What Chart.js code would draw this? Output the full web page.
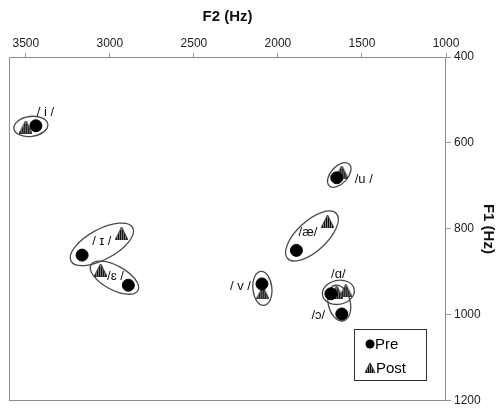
<!DOCTYPE html>
<html>
<head>
<meta charset="utf-8">
<script src="https://cdn.jsdelivr.net/npm/chart.js@4.4.1/dist/chart.umd.min.js"></script>
<style>
  html, body { margin: 0; padding: 0; background: #fff; }
</style>
</head>
<body>
<canvas id="vowelChart" width="504" height="411"></canvas>
<script>
// vowel formant data (Hz)
const vowels = ['i', 'ɪ', 'ɛ', 'u', 'æ', 'ʌ', 'ɑ', 'ɔ'];
const vowelLabels = ['/ i /', '/ ɪ /', '/ɛ /', '/u /', '/æ/', '/ v /', '/ɑ/', '/ɔ/'];
const preF2 = [3440, 3165, 2890, 1650, 1890, 2095, 1685, 1620];
const preF1 = [560, 861, 931, 681, 850, 928, 951, 998];
const postF2 = [3500, 2930, 3055, 1620, 1705, 2090, 1596, 1650];
const postF1 = [563, 811, 896, 668, 783, 949, 944, 947];
const xTicks = [3500, 3000, 2500, 2000, 1500, 1000];
const yTicks = [400, 600, 800, 1000, 1200];

// ellipse look per vowel: [extra length along the pair, minor radius] in px
const ellipseSize = [[12, 10], [12.6, 15], [11, 12], [11, 8.5], [12, 15], [12.5, 9.5], [8.5, 12], [7, 11]];
// label offset from the pair midpoint, px
const labelOffset = [[14.5, -13.5], [0, -3], [1, -1], [24.5, 4], [-4, -4], [-22, -2], [0, -18], [-21, 12]];

const FONT = '"Liberation Sans", Arial, sans-serif';

// striped triangle marker for "Post"
function makeTriangle(w, h) {
  const c = document.createElement('canvas');
  c.width = w;
  c.height = h;
  const g = c.getContext('2d');
  const tri = () => {
    g.beginPath();
    g.moveTo(w / 2, 0);
    g.lineTo(w, h);
    g.lineTo(0, h);
    g.closePath();
  };
  tri();
  g.save();
  g.clip();
  g.fillStyle = '#8a8a8a';
  g.fillRect(0, 0, w, h);
  g.fillStyle = '#000';
  for (let x = 1; x < w; x += 2) {
    g.fillRect(x, 0, 1, h);
  }
  g.restore();
  tri();
  g.strokeStyle = '#333';
  g.lineWidth = 1;
  g.stroke();
  return c;
}
const triMarker = makeTriangle(13, 13);
const triSmall = makeTriangle(10, 10);

const frame = {
  id: 'frame',
  beforeDatasetsDraw(chart) {
    const { ctx, chartArea: a, scales } = chart;
    ctx.save();
    ctx.strokeStyle = '#8c8c8c';
    ctx.lineWidth = 1;
    ctx.strokeRect(Math.round(a.left) + 0.5, Math.round(a.top) + 0.5,
      Math.round(a.right - a.left) - 1, Math.round(a.bottom - a.top) - 1);

    // ellipses round each pre/post pair, plus vowel labels
    vowels.forEach((v, i) => {
      const x1 = scales.x.getPixelForValue(preF2[i]);
      const y1 = scales.y.getPixelForValue(preF1[i]);
      const x2 = scales.x.getPixelForValue(postF2[i]);
      const y2 = scales.y.getPixelForValue(postF1[i]);
      const mx = (x1 + x2) / 2;
      const my = (y1 + y2) / 2;
      let ang = Math.atan2(y2 - y1, x2 - x1);
      if (ang > Math.PI / 2) ang -= Math.PI;
      if (ang < -Math.PI / 2) ang += Math.PI;
      const half = Math.hypot(x2 - x1, y2 - y1) / 2;
      const [pad, minor] = ellipseSize[i];
      ctx.beginPath();
      ctx.ellipse(mx, my, half + pad, minor, ang, 0, Math.PI * 2);
      ctx.strokeStyle = '#4a4a4a';
      ctx.lineWidth = 1.3;
      ctx.stroke();

      const [ox, oy] = labelOffset[i];
      ctx.font = '13px ' + FONT;
      ctx.fillStyle = '#111';
      ctx.textAlign = 'center';
      ctx.textBaseline = 'middle';
      ctx.fillText(vowelLabels[i], mx + ox, my + oy);
    });
    ctx.restore();
  },
  afterDatasetsDraw(chart) {
    // legend box, bottom right inside the plot
    const { ctx, chartArea: a } = chart;
    const bx = Math.round(a.right) - 92;
    const by = Math.round(a.bottom) - 72;
    ctx.save();
    ctx.fillStyle = '#fff';
    ctx.fillRect(bx, by, 72, 51);
    ctx.strokeStyle = '#333';
    ctx.lineWidth = 1;
    ctx.strokeRect(bx + 0.5, by + 0.5, 72, 51);
    ctx.fillStyle = '#000';
    ctx.beginPath();
    ctx.arc(bx + 16, by + 15, 4.5, 0, Math.PI * 2);
    ctx.fill();
    ctx.drawImage(triSmall, bx + 11, by + 34);
    ctx.font = '15px ' + FONT;
    ctx.fillStyle = '#000';
    ctx.textAlign = 'left';
    ctx.textBaseline = 'middle';
    ctx.fillText('Pre', bx + 21, by + 16);
    ctx.fillText('Post', bx + 22, by + 40);
    ctx.restore();
  }
};

const ctx = document.getElementById('vowelChart').getContext('2d');
new Chart(ctx, {
  type: 'scatter',
  data: {
    datasets: [
      {
        label: 'Pre',
        data: vowels.map((v, i) => ({ x: preF2[i], y: preF1[i] })),
        pointStyle: 'circle',
        pointRadius: 6,
        backgroundColor: '#000',
        borderColor: '#000',
      },
      {
        label: 'Post',
        data: vowels.map((v, i) => ({ x: postF2[i], y: postF1[i] })),
        pointStyle: triMarker,
      },
    ],
  },
  options: {
    responsive: false,
    animation: false,
    layout: { padding: { left: 9, bottom: 7, top: 0, right: 0 } },
    plugins: { legend: { display: false }, tooltip: { enabled: false } },
    scales: {
      x: {
        type: 'linear',
        position: 'top',
        reverse: true,
        min: 1000,
        max: 3600,
        afterBuildTicks: (s) => { s.ticks = xTicks.map((v) => ({ value: v })); },
        afterFit: (s) => { s.height = 57; },
        grid: { drawOnChartArea: false, tickLength: 4, color: '#999' },
        border: { display: false },
        ticks: { color: '#222', font: { family: FONT, size: 12 }, padding: 2, maxRotation: 0, callback: (v) => String(v) },
        title: { display: true, text: 'F2 (Hz)', color: '#111', font: { family: FONT, size: 15, weight: 'bold' }, padding: { top: 8, bottom: 0 } },
      },
      y: {
        type: 'linear',
        position: 'right',
        reverse: true,
        min: 400,
        max: 1200,
        afterBuildTicks: (s) => { s.ticks = yTicks.map((v) => ({ value: v })); },
        afterFit: (s) => { s.width = 58; },
        grid: { drawOnChartArea: false, tickLength: 5, color: '#999' },
        border: { display: false },
        ticks: { color: '#222', font: { family: FONT, size: 12 }, padding: 3, callback: (v) => String(v) },
        title: { display: true, text: 'F1 (Hz)', color: '#111', font: { family: FONT, size: 15, weight: 'bold' }, padding: { top: 7, bottom: 0 } },
      },
    },
  },
  plugins: [frame],
});
</script>
</body>
</html>
